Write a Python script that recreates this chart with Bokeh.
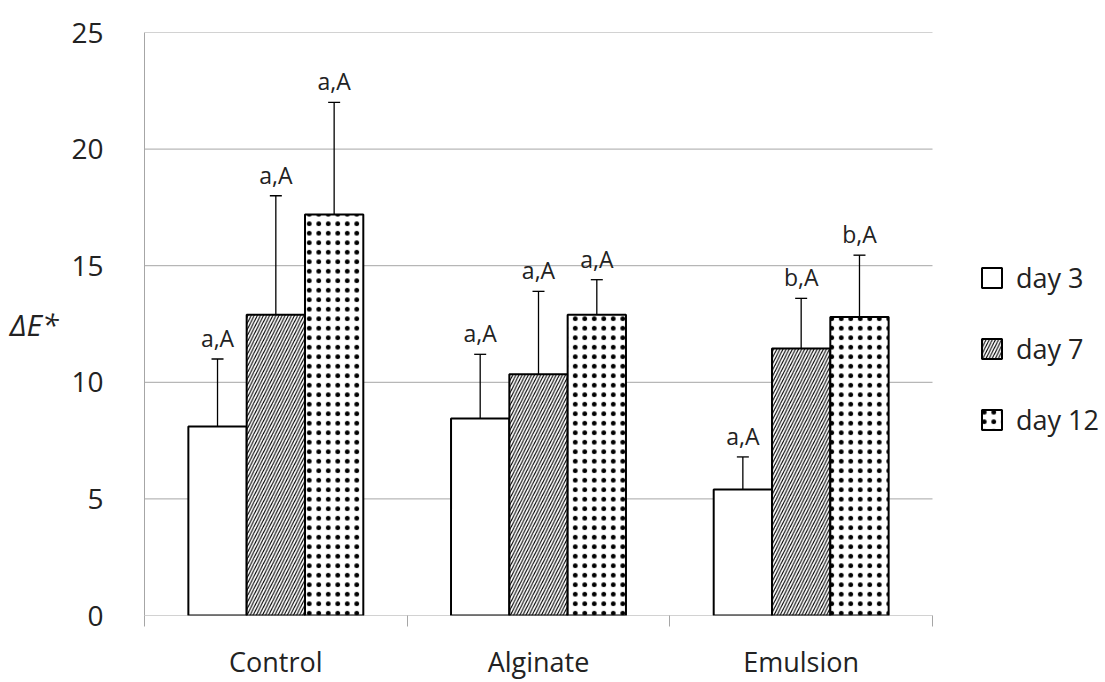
from bokeh.plotting import figure
from bokeh.models import Range1d, FixedTicker, Legend, LegendItem
from bokeh.embed import file_html
from bokeh.resources import INLINE
from bokeh.core.properties import value

categories = ["Control", "Alginate", "Emulsion"]
series = ["day 3", "day 7", "day 12"]
day3 = [8.1, 8.45, 5.4]
day7 = [12.9, 10.35, 11.45]
day12 = [17.2, 12.9, 12.8]
err3 = [2.9, 2.75, 1.4]
err7 = [5.1, 3.55, 2.15]
err12 = [4.8, 1.5, 2.65]
labels3 = ["a,A", "a,A", "a,A"]
labels7 = ["a,A", "a,A", "b,A"]
labels12 = ["a,A", "a,A", "b,A"]
y_ticks = [0, 5, 10, 15, 20, 25]

FONT = "Open Sans"
GRID = "#a6a6a6"
TXT = "#222222"

W, H = 1105, 682
LEFT, TOP, BOTTOM = 144, 32, 64
AXES_RIGHT = 932  # right end of the category axis (px)
n = len(categories)
x_end = n * (W - LEFT) / (AXES_RIGHT - LEFT)  # frame extended to hold the legend

p = figure(width=W, height=H, x_range=Range1d(0, x_end), y_range=Range1d(0, 25),
           output_backend="svg", toolbar_location=None,
           min_border_left=LEFT, min_border_right=0, min_border_top=TOP, min_border_bottom=BOTTOM)
p.outline_line_color = None
p.background_fill_color = "white"
p.xgrid.visible = False
p.ygrid.visible = False

# horizontal gridlines only across the categories
p.segment(x0=[0] * len(y_ticks), x1=[n] * len(y_ticks), y0=y_ticks, y1=y_ticks,
          line_color=GRID, line_width=1)

centers = [i + 0.5 for i in range(n)]
p.xaxis.ticker = FixedTicker(ticks=centers, minor_ticks=list(range(n + 1)))
p.xaxis.major_label_overrides = {c: lab for c, lab in zip(centers, categories)}
p.xaxis.major_tick_line_color = None
p.xaxis.major_tick_out = 0
p.xaxis.major_tick_in = 0
p.xaxis.minor_tick_line_color = GRID
p.xaxis.minor_tick_out = 11
p.xaxis.minor_tick_in = 0
p.xaxis.axis_line_color = None
p.xaxis.major_label_text_font = FONT
p.xaxis.major_label_text_font_size = "27px"
p.xaxis.major_label_text_color = TXT
p.xaxis.major_label_standoff = 16

p.yaxis.ticker = FixedTicker(ticks=y_ticks)
p.yaxis.major_tick_out = 0
p.yaxis.major_tick_in = 0
p.yaxis.minor_tick_line_color = None
p.yaxis.axis_line_color = GRID
p.yaxis.major_label_text_font = FONT
p.yaxis.major_label_text_font_size = "28px"
p.yaxis.major_label_text_color = TXT
p.yaxis.major_label_standoff = 41
p.yaxis.axis_label = "ΔE*"
p.yaxis.axis_label_orientation = "horizontal"
p.yaxis.axis_label_text_font = FONT
p.yaxis.axis_label_text_font_size = "30px"
p.yaxis.axis_label_text_font_style = "italic"
p.yaxis.axis_label_text_color = TXT
p.yaxis.axis_label_standoff = 10

bw = 0.222
offsets = [-bw, 0.0, bw]
vals = [day3, day7, day12]
errs = [err3, err7, err12]
labs = [labels3, labels7, labels12]
hatches = [dict(),
           dict(hatch_pattern="/", hatch_scale=6.2, hatch_weight=1.1, hatch_color="black"),
           dict(hatch_pattern=".", hatch_scale=9.5, hatch_weight=0.5, hatch_color="black")]

renderers = []
for k in range(3):
    xs = [c + offsets[k] for c in centers]
    r = p.vbar(x=xs, top=vals[k], width=bw, bottom=0, fill_color="white",
               line_color="black", line_width=2, **hatches[k])
    renderers.append(r)
for k in range(3):
    xs = [c + offsets[k] for c in centers]
    tops = [v + e for v, e in zip(vals[k], errs[k])]
    p.segment(x0=xs, y0=vals[k], x1=xs, y1=tops, line_color="black", line_width=1.3)
    p.dash(x=xs, y=tops, size=12, line_color="black", line_width=1.3)
    p.text(x=xs, y=tops, text=labs[k], text_align="center", text_baseline="bottom",
           y_offset=-5, text_font=value(FONT), text_font_size="23px", text_color=TXT)

legend = Legend(items=[LegendItem(label=s, renderers=[r]) for s, r in zip(series, renderers)],
                location=(835, 177), orientation="vertical",
                glyph_width=25, glyph_height=25, label_height=25,
                label_text_font=FONT, label_text_font_size="27px", label_text_color=TXT,
                label_standoff=12, spacing=34, padding=0, margin=0,
                border_line_alpha=0, background_fill_alpha=0)
p.add_layout(legend)

open("out.html", "w").write(file_html(p, INLINE))
